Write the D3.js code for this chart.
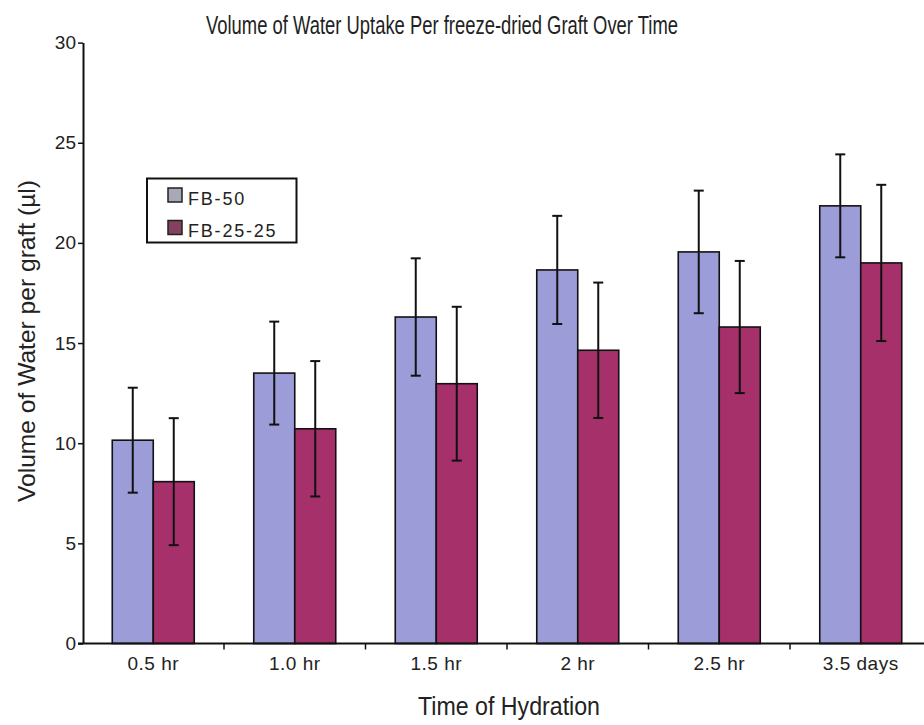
<!DOCTYPE html>
<html>
<head>
<meta charset="utf-8">
<script src="https://cdn.jsdelivr.net/npm/d3@7"></script>
<style>
  html, body { margin: 0; padding: 0; background: #ffffff; }
  svg { display: block; font-family: "Liberation Sans", Arial, sans-serif; }
</style>
</head>
<body>
<svg id="chart" width="924" height="725"></svg>
<script>
// ---- data ----
const categories = ["0.5 hr", "1.0 hr", "1.5 hr", "2 hr", "2.5 hr", "3.5 days"];
const seriesNames = ["FB-50", "FB-25-25"];
const fb50 = [10.15, 13.5, 16.3, 18.65, 19.55, 21.85];
const fb50Err = [2.62, 2.57, 2.93, 2.7, 3.06, 2.57];
const fb2525 = [8.08, 10.72, 12.97, 14.64, 15.8, 19.0];
const fb2525Err = [3.17, 3.38, 3.84, 3.38, 3.3, 3.9];
const yTicks = [0, 5, 10, 15, 20, 25, 30];
const seriesColors = ["#9c9cd8", "#a5306a"];
const legendColors = ["#a8a8b6", "#83405f"];

const titleText = "Volume of Water Uptake Per freeze-dried Graft Over Time";
const yLabel = "Volume of Water per graft (\u00b5l)";
const xLabel = "Time of Hydration";

const svg = d3.select("#chart");

const y = d3.scaleLinear().domain([0, 30]).range([643.5, 42.6]);
const x0 = d3.scaleBand().domain(categories).range([82.5, 931.5]).padding(0);
const bw = x0.bandwidth();
const x1 = d3.scaleBand().domain(seriesNames).range([bw / 2 - 41, bw / 2 + 41]).padding(0);

const rows = categories.map((c, i) => ({
  cat: c,
  vals: [
    { s: seriesNames[0], v: fb50[i], e: fb50Err[i], col: seriesColors[0] },
    { s: seriesNames[1], v: fb2525[i], e: fb2525Err[i], col: seriesColors[1] }
  ]
}));

// bars
const g = svg.append("g");
const groups = g.selectAll("g.grp").data(rows).enter().append("g")
  .attr("transform", d => `translate(${x0(d.cat)},0)`);

groups.selectAll("rect").data(d => d.vals).enter().append("rect")
  .attr("x", d => x1(d.s))
  .attr("y", d => y(d.v))
  .attr("width", x1.bandwidth())
  .attr("height", d => y(0) - y(d.v))
  .attr("fill", d => d.col)
  .attr("stroke", "#111")
  .attr("stroke-width", 1.6);

// error bars
const eb = groups.selectAll("g.err").data(d => d.vals).enter().append("g");
eb.append("line")
  .attr("x1", d => x1(d.s) + x1.bandwidth() / 2)
  .attr("x2", d => x1(d.s) + x1.bandwidth() / 2)
  .attr("y1", d => y(d.v + d.e))
  .attr("y2", d => y(d.v - d.e))
  .attr("stroke", "#111").attr("stroke-width", 2);
[1, -1].forEach(sg => {
  eb.append("line")
    .attr("x1", d => x1(d.s) + x1.bandwidth() / 2 - 5)
    .attr("x2", d => x1(d.s) + x1.bandwidth() / 2 + 5)
    .attr("y1", d => y(d.v + sg * d.e))
    .attr("y2", d => y(d.v + sg * d.e))
    .attr("stroke", "#111").attr("stroke-width", 2);
});

// y axis
const yAxis = d3.axisLeft(y).tickValues(yTicks).tickSize(5).tickSizeOuter(0).tickPadding(2);
const ya = svg.append("g").attr("transform", "translate(83,0)").call(yAxis);
ya.select(".domain").attr("stroke", "#111").attr("stroke-width", 2);
ya.selectAll(".tick line").attr("stroke", "#111").attr("stroke-width", 1.5);
ya.selectAll(".tick text").attr("font-size", "19px").attr("fill", "#222")
  .attr("font-family", "Liberation Sans, Arial, sans-serif");

// x axis
const xAxis = d3.axisBottom(x0).tickSize(0).tickSizeOuter(0).tickPadding(13);
const xa = svg.append("g").attr("transform", `translate(0,${y(0)})`).call(xAxis);
xa.select(".domain").attr("stroke", "#111").attr("stroke-width", 2)
  .attr("d", `M78,0H924`);
xa.selectAll(".tick text").attr("font-size", "19px").attr("fill", "#222")
  .attr("letter-spacing", "0.5px")
  .attr("font-family", "Liberation Sans, Arial, sans-serif");
// boundary tick marks between categories
xa.selectAll("line.bt").data(categories.slice(1)).enter().append("line")
  .attr("class", "bt")
  .attr("x1", d => x0(d)).attr("x2", d => x0(d))
  .attr("y1", 0).attr("y2", 6)
  .attr("stroke", "#111").attr("stroke-width", 1.5);

// title
svg.append("text")
  .attr("x", 206).attr("y", 34)
  .attr("textLength", 472).attr("lengthAdjust", "spacingAndGlyphs")
  .attr("font-size", "26px").attr("fill", "#222")
  .text(titleText);

// y label
svg.append("text")
  .attr("transform", "translate(35,341) rotate(-90)")
  .attr("text-anchor", "middle")
  .attr("textLength", 322).attr("lengthAdjust", "spacingAndGlyphs")
  .attr("font-size", "24px").attr("fill", "#222")
  .text(yLabel);

// x label
svg.append("text")
  .attr("x", 509).attr("y", 715)
  .attr("text-anchor", "middle")
  .attr("textLength", 182).attr("lengthAdjust", "spacingAndGlyphs")
  .attr("font-size", "25px").attr("fill", "#222")
  .text(xLabel);

// legend
const lg = svg.append("g");
lg.append("rect").attr("x", 147).attr("y", 178.5).attr("width", 149.5).attr("height", 64)
  .attr("fill", "#fff").attr("stroke", "#111").attr("stroke-width", 2);
const li = lg.selectAll("g.li").data(seriesNames).enter().append("g")
  .attr("transform", (d, i) => `translate(168,${188 + i * 32.5})`);
li.append("rect").attr("width", 14).attr("height", 14)
  .attr("fill", (d, i) => legendColors[i]).attr("stroke", "#222").attr("stroke-width", 1.5);
li.append("text").attr("x", 20).attr("y", 16.5)
  .attr("font-size", "18px").attr("letter-spacing", "1.8px").attr("fill", "#222")
  .text(d => d);
</script>
</body>
</html>
